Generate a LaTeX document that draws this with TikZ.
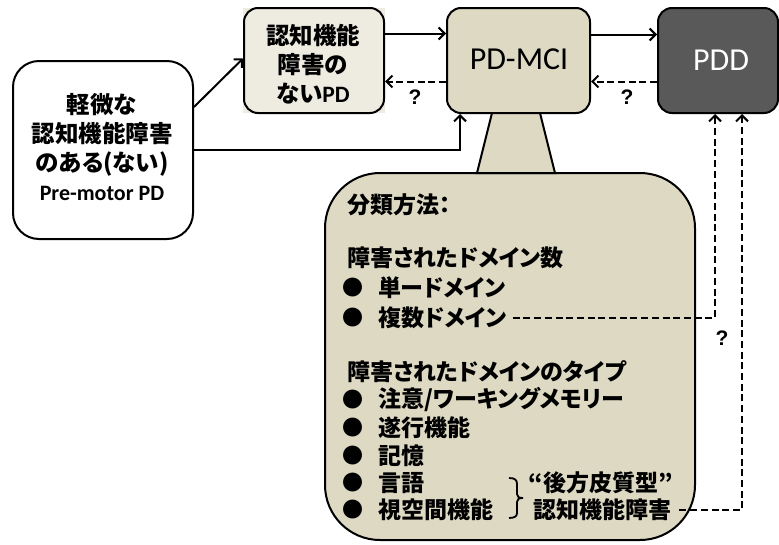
\documentclass[tikz,border=0pt]{standalone}
\usepackage{fontspec}
\setmainfont{Carlito}
\newfontfamily\jp{Noto Sans CJK JP}[RawFeature={+palt}]
\newfontfamily\qfont{Liberation Sans}
\usetikzlibrary{arrows.meta,calc}
\definecolor{bgA}{HTML}{EEECE1}
\definecolor{bgB}{HTML}{DDD9C3}
\definecolor{dk}{HTML}{595959}
\begin{document}
\begin{tikzpicture}[x=1pt,y=-1pt,
  box/.style={draw, line width=2pt, rounded corners=14pt, inner sep=0pt},
  arr/.style={line width=2pt, -{Straight Barb[length=6pt,width=12pt,line width=2pt]}},
  darr/.style={line width=2pt, dash pattern=on 7pt off 3.7pt, -{Straight Barb[length=6pt,width=12pt,line width=2pt]}},
  jt/.style={font=\jp\bfseries\fontsize{23.5}{29}\selectfont, inner sep=0pt, align=center},
  ct/.style={font=\jp\bfseries\fontsize{23}{26}\selectfont, inner sep=0pt, anchor=west},
  bul/.style={font=\jp\bfseries\fontsize{21}{22}\selectfont, inner sep=0pt},
  q/.style={font=\qfont\bfseries\fontsize{21}{24}\selectfont, inner sep=0pt}]
\useasboundingbox (0,0) rectangle (779,544);
% callout
\node[draw, fill=bgB, line width=2pt, rounded corners=55pt, minimum width=370pt, minimum height=367pt, inner sep=0pt] (call) at (510,356.5) {};
\filldraw[fill=bgB, line width=2pt] (492,113) -- (477,173) -- (555,173) -- (540,113);
% boxes
\node[box, fill=white, rounded corners=26pt, minimum width=180pt, minimum height=178pt] (left) at (103,150) {};
\fill[bgA] (243,8) rectangle (385,113);
\node[box, fill=bgA, minimum width=140pt, minimum height=105pt] (nopd) at (314,60.5) {};
\node[box, fill=bgB, minimum width=143pt, minimum height=105pt] (mci) at (518.5,60.5) {};
\node[box, fill=dk, minimum width=120pt, minimum height=105pt] (pdd) at (718,60.5) {};
% box texts
\node[jt] (lefttxt) at (102,147) {軽微な\\認知機能障害\\のある(ない)\\{\rmfamily\bfseries\fontsize{22}{29}\selectfont Pre-motor PD}};
\node[jt] (nopdtxt) at (313,64) {認知機能\\障害の\\ない{\rmfamily\bfseries PD}};
\node[font=\fontsize{32}{36}\selectfont, inner sep=0pt] (mcitxt) at (519,59) {PD-MCI};
\node[font=\fontsize{32}{36}\selectfont, text=white, inner sep=0pt] (pddtxt) at (721,60) {PDD};
% callout text
\node[ct] (h1) at (347,205) {分類方法：};
\node[ct] (h2) at (347,258) {障害されたドメイン数};
\node[bul] (b1) at (353,288) {●};
\node[ct] (i1) at (378,288) {単ードメイン};
\node[bul] (b2) at (353,318) {●};
\node[ct] (i2) at (378,318) {複数ドメイン};
\node[ct] (h3) at (347,372) {障害されたドメインのタイプ};
\node[bul] (b3) at (353,400) {●};
\node[ct] (i3) at (378,400) {注意/ワーキングメモリー};
\node[bul] (b4) at (353,428) {●};
\node[ct] (i4) at (378,428) {遂行機能};
\node[bul] (b5) at (353,456) {●};
\node[ct] (i5) at (378,456) {記憶};
\node[bul] (b6) at (353,483) {●};
\node[ct] (i6) at (378,483) {言語};
\node[bul] (b7) at (353,510) {●};
\node[ct] (i7) at (378,510) {視空間機能};
\node[ct, anchor=center] (post) at (601,483) {“後方皮質型”};
\node[ct] (cogimp) at (533,510) {認知機能障害};
\draw[line width=1.8pt] (509,478) .. controls (515,478) and (517,480) .. (517,484) -- (517,494) .. controls (517,497) and (519,498) .. (523,498) .. controls (519,498) and (517,499) .. (517,502) -- (517,513) .. controls (517,516) and (515,518) .. (509,518);
% question marks
\node[q] (q1) at (415,97) {?};
\node[q] (q2) at (627,97) {?};
\node[q] (q3) at (722,338) {?};
% connectors
\draw[arr] ([yshift=43pt]left.east) -- ([yshift=2pt]nopd.west);
\draw[arr] (left.east) -| ([xshift=-58.5pt]mci.south);
\draw[arr] ([yshift=27pt]nopd.east) -- ([yshift=27pt]nopd.east -| mci.west);
\draw[arr] ([yshift=26pt]mci.east) -- ([yshift=26pt]mci.east -| pdd.west);
\draw[darr] ([yshift=-21pt]pdd.west) -- ([yshift=-21pt]pdd.west -| mci.east);
\draw[darr] ([yshift=-21pt]mci.west) -- ([yshift=-21pt]mci.west -| nopd.east);
\draw[darr] ([xshift=6pt]i2.east) -| ([xshift=-3pt]pdd.south);
\draw[darr] ([xshift=8pt]cogimp.east) -| ([xshift=24pt]pdd.south);
\end{tikzpicture}
\end{document}
